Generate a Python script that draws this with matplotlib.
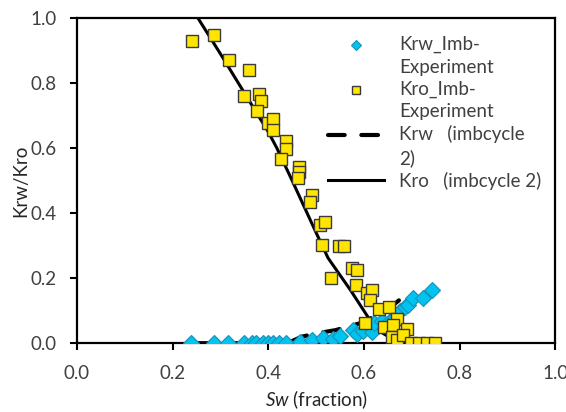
import matplotlib
matplotlib.use('Agg')
import matplotlib.pyplot as plt
from matplotlib.legend_handler import HandlerLine2D

plt.rcParams['font.family'] = ['Lato', 'DejaVu Sans']
plt.rcParams['mathtext.fontset'] = 'custom'
plt.rcParams['mathtext.it'] = 'Lato:italic'
plt.rcParams['mathtext.rm'] = 'Lato'

krw_sw = [0.238, 0.286, 0.315, 0.349, 0.365, 0.375, 0.389, 0.400, 0.410, 0.423,
          0.437, 0.466, 0.492, 0.514, 0.536, 0.549, 0.577, 0.585, 0.598, 0.617,
          0.621, 0.638, 0.653, 0.665, 0.676, 0.686, 0.693, 0.703, 0.724, 0.743]
krw_exp = [0.0, 0.0, 0.0, 0.0, 0.0, 0.0, 0.0, 0.0, 0.0, 0.0,
           0.0, 0.003, 0.009, 0.015, 0.012, 0.022, 0.040, 0.028, 0.037, 0.034,
           0.062, 0.068, 0.065, 0.080, 0.100, 0.110, 0.117, 0.138, 0.138, 0.163]

kro_sw = [0.241, 0.287, 0.318, 0.360, 0.349, 0.381, 0.385, 0.377, 0.400, 0.410,
          0.410, 0.437, 0.437, 0.427, 0.464, 0.464, 0.462, 0.492, 0.487, 0.508,
          0.519, 0.513, 0.548, 0.559, 0.575, 0.586, 0.531, 0.584, 0.607, 0.617,
          0.613, 0.632, 0.653, 0.603, 0.642, 0.669, 0.661, 0.690, 0.659, 0.669,
          0.682, 0.699, 0.715, 0.732, 0.749]
kro_exp = [0.929, 0.948, 0.871, 0.840, 0.760, 0.766, 0.745, 0.714, 0.677, 0.689,
           0.655, 0.622, 0.597, 0.566, 0.542, 0.526, 0.508, 0.455, 0.434, 0.363,
           0.372, 0.302, 0.298, 0.298, 0.231, 0.225, 0.200, 0.178, 0.154, 0.163,
           0.132, 0.105, 0.111, 0.062, 0.049, 0.074, 0.055, 0.043, 0.018, 0.009,
           0.025, 0.0, 0.0, 0.0, 0.0]

# simulated curves (imbibition cycle 2)
krw_sim_sw = [0.24, 0.44, 0.47, 0.50, 0.54, 0.57, 0.60, 0.63, 0.655, 0.68]
krw_sim = [0.0, 0.0, 0.02, 0.03, 0.04, 0.052, 0.065, 0.09, 0.11, 0.14]
kro_sim_sw = [0.253, 0.30, 0.35, 0.40, 0.418, 0.45, 0.50, 0.525, 0.572, 0.61, 0.64, 0.675, 0.76]
kro_sim = [1.0, 0.89, 0.77, 0.65, 0.60, 0.50, 0.34, 0.262, 0.163, 0.077, 0.03, 0.0, 0.0]


class TopLineHandler(HandlerLine2D):
    # put the legend key next to the first line of a two-line label
    def __init__(self, dy, **kw):
        super().__init__(**kw)
        self.dy = dy

    def create_artists(self, legend, orig_handle, xdescent, ydescent,
                       width, height, fontsize, trans):
        return super().create_artists(legend, orig_handle, xdescent,
                                      ydescent - 2 * self.dy, width, height,
                                      fontsize, trans)


fig = plt.figure(figsize=(5.66, 4.12), dpi=100)
ax = fig.add_axes([0.136, 0.167, 0.845, 0.789])

l1, = ax.plot(krw_sw, krw_exp, linestyle='none', marker='D', markersize=8,
              markerfacecolor='#00C3F0', markeredgecolor='#1A8FB5', markeredgewidth=0.8,
              label='Krw_Imb-\nExperiment', zorder=4)
l2, = ax.plot(kro_sw, kro_exp, linestyle='none', marker='s', markersize=9,
              markerfacecolor='#FFE500', markeredgecolor='#3A3A3A', markeredgewidth=1.0,
              label='Kro_Imb-\nExperiment', zorder=5)
l3, = ax.plot(krw_sim_sw, krw_sim, color='black', linewidth=3, dashes=(4, 4),
              dash_capstyle='round', label='Krw   (imbcycle\n2)', zorder=3)
l4, = ax.plot(kro_sim_sw, kro_sim, color='black', linewidth=2.2,
              label='Kro   (imbcycle 2)', zorder=3)

ax.set_xlim(0, 1)
ax.set_ylim(0, 1)
ax.set_xticks([0.0, 0.2, 0.4, 0.6, 0.8, 1.0])
ax.set_yticks([0.0, 0.2, 0.4, 0.6, 0.8, 1.0])
ax.set_xticklabels(['0.0', '0.2', '0.4', '0.6', '0.8', '1.0'])
ax.set_yticklabels(['0.0', '0.2', '0.4', '0.6', '0.8', '1.0'])
ax.tick_params(direction='out', length=5, width=1.5, labelsize=13.5,
               colors='black', labelcolor='#404040')
ax.tick_params(axis='x', pad=10.5)
ax.tick_params(axis='y', pad=9.5)
for s in ax.spines.values():
    s.set_linewidth(1.6)

ax.set_xlabel(r'$\it{Sw}$ (fraction)', fontsize=13.5, color='#262626', labelpad=5)
ax.set_ylabel('Krw/Kro', fontsize=13.5, color='#262626', labelpad=1)

leg = ax.legend(loc='upper right', bbox_to_anchor=(0.995, 0.98), frameon=False,
                fontsize=13.5, markerscale=0.6, handlelength=3.0,
                handletextpad=0.8, labelspacing=0.25, borderaxespad=0.2,
                handler_map={l1: TopLineHandler(8), l2: TopLineHandler(8),
                             l3: TopLineHandler(8)})
for t in leg.get_texts():
    t.set_color('#404040')
    t.set_linespacing(1.4)

fig.savefig('out.png', dpi=100)
